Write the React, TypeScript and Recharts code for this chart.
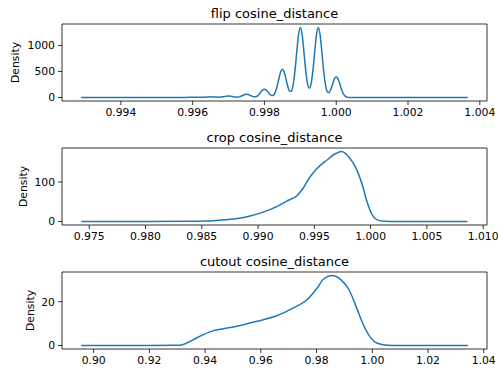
import React from "react"
import { LineChart, Line, XAxis, YAxis, ReferenceArea } from "recharts"

// flip cosine_distance (kde)
const flipX = [
  0.992895, 0.994, 0.995, 0.9958, 0.996, 0.9961, 0.99625, 0.9964, 0.9965, 0.9966, 0.99675,
  0.9969, 0.997, 0.9971, 0.9972, 0.99725, 0.9973, 0.99735, 0.9974, 0.99745, 0.9975, 0.99755,
  0.9976, 0.99765, 0.9977, 0.99775, 0.9978, 0.99785, 0.9979, 0.99795,
  0.998, 0.99805, 0.9981, 0.99815, 0.9982, 0.99825, 0.9983, 0.99835, 0.9984, 0.99845,
  0.9985, 0.99855, 0.9986, 0.99865, 0.9987, 0.99875, 0.9988, 0.99885, 0.9989, 0.99895,
  0.999, 0.99905, 0.9991, 0.99915, 0.9992, 0.99925, 0.9993, 0.99935, 0.9994, 0.99945,
  0.9995, 0.99955, 0.9996, 0.99965, 0.9997, 0.99975, 0.9998, 0.99985, 0.9999, 0.99995,
  1.0, 1.00005, 1.0001, 1.00015, 1.0002, 1.00025, 1.0003, 1.00035, 1.0004, 1.001, 1.002, 1.003, 1.003665,
]
const flipY = [
  0, 0, 0, 1, 6, 4, 3, 8, 14, 10, 5,
  20, 28, 20, 8, 6, 12, 24, 42, 57, 64, 57,
  42, 25, 14, 15, 29, 60, 104, 144,
  160, 144, 104, 63, 39, 44, 99, 206, 354, 489,
  545, 489, 355, 213, 123, 118, 249, 511, 873, 1206,
  1345, 1206, 874, 515, 265, 180, 265, 515, 874, 1206,
  1345, 1206, 873, 510, 246, 112, 96, 156, 261, 359,
  400, 359, 260, 151, 71, 27, 8, 2, 0, 0, 0, 0, 0,
]

// crop cosine_distance (kde)
const cropX = [
  0.9743, 0.98, 0.984, 0.985, 0.986, 0.987, 0.9882, 0.9893, 0.9904, 0.9916, 0.9925, 0.99345,
  0.994, 0.9946, 0.9952, 0.9961, 0.9969, 0.9974, 0.9981, 0.9987, 0.9993, 0.9997, 1.0002,
  1.0006, 1.0013, 1.002, 1.0086,
]
const cropY = [
  0, 0, 0.3, 0.8, 1.8, 4.2, 7.6, 14, 23, 37, 51, 65,
  84, 112, 133, 155, 172, 177, 162, 135, 89, 48, 14,
  4, 0.5, 0, 0,
]

// cutout cosine_distance (kde)
const cutoutX = [
  0.89557, 0.92, 0.929, 0.931, 0.9322, 0.934, 0.9358, 0.9394, 0.943, 0.9466, 0.9514, 0.9561,
  0.9609, 0.9657, 0.9719, 0.9767, 0.9803, 0.9826, 0.9856, 0.9886, 0.9916, 0.9946, 0.997,
  0.9994, 1.0018, 1.0053, 1.01, 1.0343,
]
const cutoutY = [
  0, 0, 0.1, 0.15, 0.5, 1.5, 2.7, 5, 6.8, 7.7, 8.8, 10.3,
  11.8, 13.6, 17.3, 21, 26.4, 30.5, 32, 30.2, 25.6, 16.5, 8.9,
  3.6, 1, 0.15, 0, 0,
]

const flipTicks = [0.994, 0.996, 0.998, 1.0, 1.002, 1.004]
const cropTicks = [0.975, 0.98, 0.985, 0.99, 0.995, 1.0, 1.005, 1.01]
const cutoutTicks = [0.9, 0.92, 0.94, 0.96, 0.98, 1.0, 1.02, 1.04]

const toRows = (xs: number[], ys: number[]) => xs.map((x, i) => ({ x, density: ys[i] }))

const panels = [
  {
    title: "flip cosine_distance",
    data: toRows(flipX, flipY),
    xDomain: [0.99236, 1.0042],
    yDomain: [-67, 1412],
    xTicks: flipTicks,
    yTicks: [0, 500, 1000],
    digits: 3,
    labelX: 15.5,
  },
  {
    title: "crop cosine_distance",
    data: toRows(cropX, cropY),
    xDomain: [0.97258, 1.01034],
    yDomain: [-8.9, 186],
    xTicks: cropTicks,
    yTicks: [0, 100],
    digits: 3,
    labelX: 23.5,
  },
  {
    title: "cutout cosine_distance",
    data: toRows(cutoutX, cutoutY),
    xDomain: [0.88864, 1.04118],
    yDomain: [-1.6, 33.6],
    xTicks: cutoutTicks,
    yTicks: [0, 20],
    digits: 2,
    labelX: 30.5,
  },
]

const font = "DejaVu Sans"
const tickStyle = { fill: "#000", fontSize: 10.8, fontFamily: font }

export default function App() {
  return (
    <div style={{ position: "absolute", left: 0, top: 0, width: 498, height: 372, background: "#fff" }}>
      {panels.map((p, i) => (
        <div key={p.title} style={{ position: "absolute", left: 0, top: i * 124, width: 498, height: 124 }}>
          <LineChart
            width={498}
            height={124}
            data={p.data}
            margin={{ top: 24, right: 11, bottom: 0, left: 0 }}
            style={{ fontFamily: font }}
          >
            <XAxis
              dataKey="x"
              type="number"
              domain={p.xDomain}
              ticks={p.xTicks}
              interval={0}
              allowDataOverflow
              height={23}
              tickSize={4}
              tickMargin={3}
              axisLine={false}
              tickLine={{ stroke: "#000", strokeWidth: 0.8 }}
              tick={tickStyle}
              tickFormatter={(v: number) => v.toFixed(p.digits)}
            />
            <YAxis
              type="number"
              domain={p.yDomain}
              ticks={p.yTicks}
              interval={0}
              allowDataOverflow
              width={62}
              tickSize={4}
              tickMargin={3}
              axisLine={false}
              tickLine={{ stroke: "#000", strokeWidth: 0.8 }}
              tick={tickStyle}
            />
            <ReferenceArea
              x1={p.xDomain[0]}
              x2={p.xDomain[1]}
              y1={p.yDomain[0]}
              y2={p.yDomain[1]}
              fill="none"
              stroke="#000"
              strokeWidth={0.8}
              fillOpacity={0}
            />
            <Line
              type="monotone"
              dataKey="density"
              stroke="#1f77b4"
              strokeWidth={1.5}
              dot={false}
              isAnimationActive={false}
            />
          </LineChart>
          <svg width={498} height={124} style={{ position: "absolute", left: 0, top: 0, pointerEvents: "none" }}>
            <text x={274.5} y={17.5} textAnchor="middle" fontSize={13} fontFamily={font} fill="#000">
              {p.title}
            </text>
            <text
              x={p.labelX}
              y={62.5}
              textAnchor="middle"
              dominantBaseline="central"
              fontSize={10.8}
              fontFamily={font}
              fill="#000"
              transform={`rotate(-90 ${p.labelX} 62.5)`}
            >
              Density
            </text>
          </svg>
        </div>
      ))}
    </div>
  )
}
